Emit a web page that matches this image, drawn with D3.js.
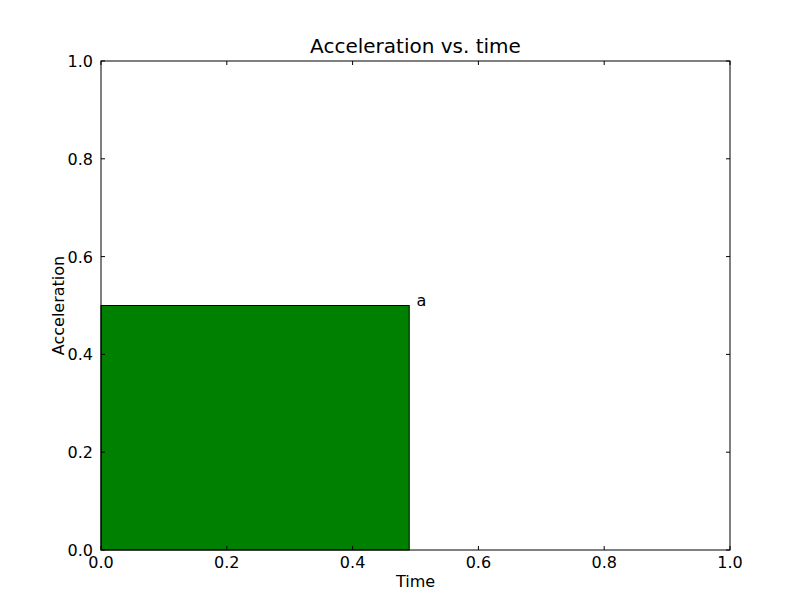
<!DOCTYPE html>
<html>
<head>
<meta charset="utf-8">
<script src="https://cdn.jsdelivr.net/npm/d3@7"></script>
<style>
body { margin: 0; background: #fff; }
text { font-family: "DejaVu Sans", sans-serif; }
</style>
</head>
<body>
<svg id="chart" width="812" height="612"></svg>
<script>
// bar data
var labels = ["a"];
var starts = [0.0];
var widths = [0.49];
var heights = [0.5];
var ticks = [0.0, 0.2, 0.4, 0.6, 0.8, 1.0];

var pL = 101, pR = 730, pT = 61, pB = 550;
var svg = d3.select("#chart");
var x = d3.scaleLinear().domain([0, 1]).range([pL, pR]);
var y = d3.scaleLinear().domain([0, 1]).range([pB, pT]);

svg.selectAll("rect.bar").data(heights).enter().append("rect")
    .attr("class", "bar")
    .attr("x", function(d, i){ return x(starts[i]); })
    .attr("y", function(d){ return y(d); })
    .attr("width", function(d, i){ return x(starts[i] + widths[i]) - x(starts[i]); })
    .attr("height", function(d){ return y(0) - y(d); })
    .style("fill", "#008000").style("stroke", "#000").style("stroke-width", 1);

svg.selectAll("text.lab").data(labels).enter().append("text")
    .attr("class", "lab")
    .attr("x", function(d, i){ return x(starts[i] + widths[i] + 0.01) + 1; })
    .attr("y", function(d, i){ return y(heights[i]); })
    .style("font-size", "16px")
    .text(function(d){ return d; });

// frame
svg.append("rect").attr("x", pL).attr("y", pT)
    .attr("width", pR - pL).attr("height", pB - pT)
    .style("fill", "none").style("stroke", "#000").style("stroke-width", 1);

var fmt = d3.format(".1f");
var tl = 4;
var g = svg.append("g");
ticks.forEach(function(t){
    g.append("line").attr("x1", x(t)).attr("x2", x(t)).attr("y1", pB).attr("y2", pB - tl).style("stroke", "#000");
    g.append("line").attr("x1", x(t)).attr("x2", x(t)).attr("y1", pT).attr("y2", pT + tl).style("stroke", "#000");
    g.append("line").attr("y1", y(t)).attr("y2", y(t)).attr("x1", pL).attr("x2", pL + tl).style("stroke", "#000");
    g.append("line").attr("y1", y(t)).attr("y2", y(t)).attr("x1", pR).attr("x2", pR - tl).style("stroke", "#000");
    g.append("text").attr("x", x(t)).attr("y", pB + 18).attr("text-anchor", "middle")
        .style("font-size", "16px").text(fmt(t));
    g.append("text").attr("x", pL - 8).attr("y", y(t) + 6).attr("text-anchor", "end")
        .style("font-size", "16px").text(fmt(t));
});

svg.append("text").attr("x", (pL + pR) / 2).attr("y", 53).attr("text-anchor", "middle")
    .style("font-size", "20px").text("Acceleration vs. time");
svg.append("text").attr("x", (pL + pR) / 2).attr("y", 587).attr("text-anchor", "middle")
    .style("font-size", "16px").text("Time");
svg.append("text").attr("transform", "translate(64," + ((pT + pB) / 2) + ") rotate(-90)")
    .attr("text-anchor", "middle").style("font-size", "16px").text("Acceleration");
</script>
</body>
</html>
